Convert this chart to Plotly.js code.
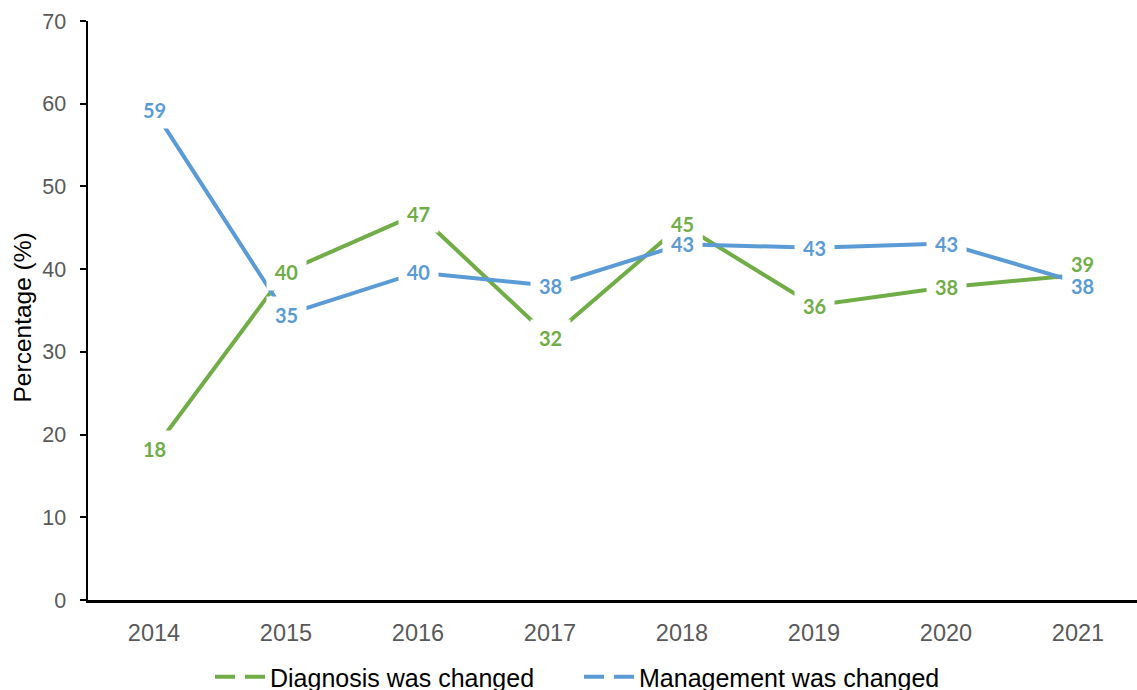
<!DOCTYPE html>
<html>
<head>
<meta charset="utf-8">
<script src="https://cdn.plot.ly/plotly-3.0.1.min.js"></script>
<style>html,body{margin:0;padding:0;background:#fff;}#chart{width:1137px;height:690px;}</style>
</head>
<body>
<div id="chart"></div>
<script>
// ---- data ----
var years = ['2014', '2015', '2016', '2017', '2018', '2019', '2020', '2021'];
var diagnosisChanged = [18.2, 39.7, 46.7, 31.7, 45.4, 35.6, 37.8, 39.3];
var managementChanged = [59.2, 34.5, 39.6, 38.0, 43.0, 42.6, 43.1, 38.4];
var seriesNames = ['Diagnosis was changed', 'Management was changed'];
var yTicks = [0, 10, 20, 30, 40, 50, 60, 70];

var GREEN = '#70AD47', BLUE = '#5B9BD5';
var LABEL_FONT = 'Lato, "Noto Sans", sans-serif';
var AX_FONT = '"Liberation Sans", Arial, sans-serif';

var greenShift = years.map(function (y, i) { return i === years.length - 1 ? {x: 4, y: 11} : {x: 0, y: 0}; });
var blueShift = years.map(function (y, i) { return i === years.length - 1 ? {x: 4, y: -4} : {x: 0, y: 0}; });

var traces = [
  {x: years, y: diagnosisChanged, type: 'scatter', mode: 'lines', name: seriesNames[0],
   line: {color: GREEN, width: 4}, showlegend: false},
  {x: years, y: managementChanged, type: 'scatter', mode: 'lines', name: seriesNames[1],
   line: {color: BLUE, width: 4}, showlegend: false},
  {x: [null], y: [null], type: 'scatter', mode: 'lines', name: seriesNames[0],
   line: {color: GREEN, width: 4, dash: '20px,10px'}},
  {x: [null], y: [null], type: 'scatter', mode: 'lines', name: seriesNames[1],
   line: {color: BLUE, width: 4, dash: '20px,10px'}}
];

// white boxes (hide the line under each label), drawn first
function boxAnn(i, y, txt, sh) {
  return {
    x: i, y: y, xref: 'x', yref: 'y', text: txt, showarrow: false,
    xanchor: 'center', yanchor: 'middle', xshift: sh.x, yshift: sh.y,
    font: {family: LABEL_FONT, size: 20, color: 'rgba(255,255,255,0)'},
    bgcolor: '#ffffff', width: 27, height: 24, borderpad: 6
  };
}
// the visible label text, drawn on top
function textAnn(i, y, txt, color, sh) {
  return {
    x: i, y: y, xref: 'x', yref: 'y', text: txt, showarrow: false,
    xanchor: 'center', yanchor: 'middle', xshift: sh.x, yshift: sh.y,
    font: {family: LABEL_FONT, size: 20, color: color},
    width: 27, height: 18, borderpad: 0
  };
}

var bgAnns = [], txtAnns = [];
years.forEach(function (yr, i) {
  var g = '<b>' + Math.round(diagnosisChanged[i]) + '</b>';
  var b = '<b>' + Math.round(managementChanged[i]) + '</b>';
  bgAnns.push(boxAnn(i, diagnosisChanged[i], g, greenShift[i]));
  bgAnns.push(boxAnn(i, managementChanged[i], b, blueShift[i]));
  txtAnns.push(textAnn(i, diagnosisChanged[i], g, GREEN, greenShift[i]));
  txtAnns.push(textAnn(i, managementChanged[i], b, BLUE, blueShift[i]));
});

var layout = {
  width: 1137, height: 690,
  margin: {l: 88, r: 0, t: 21, b: 90, pad: 0},
  paper_bgcolor: '#ffffff', plot_bgcolor: '#ffffff',
  showlegend: true,
  xaxis: {
    type: 'category', categoryorder: 'array', categoryarray: years,
    range: [-0.5, 7.447], showline: true, linecolor: '#000000', linewidth: 2.5,
    ticks: '', showgrid: false, zeroline: false, fixedrange: true,
    tickfont: {family: AX_FONT, size: 23.5, color: '#595959'}, ticklabelstandoff: 10
  },
  yaxis: {
    range: [0, 70], tickmode: 'array', tickvals: yTicks, ticktext: yTicks.map(String),
    showline: true, linecolor: '#000000', linewidth: 2.5,
    ticks: 'outside', ticklen: 6, tickwidth: 2, tickcolor: '#000000',
    showgrid: false, zeroline: false, fixedrange: true,
    tickfont: {family: AX_FONT, size: 21.5, color: '#595959'}, ticklabelstandoff: 9
  },
  legend: {
    orientation: 'h', xref: 'container', yref: 'container',
    x: 210 / 1137, xanchor: 'left', y: 13 / 690, yanchor: 'middle',
    itemwidth: 50, entrywidth: 304, entrywidthmode: 'pixels',
    font: {family: AX_FONT, size: 25, color: '#000000'},
    bgcolor: 'rgba(0,0,0,0)', borderwidth: 0
  },
  annotations: bgAnns.concat(txtAnns).concat([{
    text: 'Percentage (%)', xref: 'paper', yref: 'paper', x: 0, y: 0.5,
    xanchor: 'center', yanchor: 'middle',
    xshift: -66, yshift: -7, textangle: -90, showarrow: false,
    font: {family: AX_FONT, size: 24.5, color: '#000000'}
  }])
};

Plotly.newPlot('chart', traces, layout, {displayModeBar: false, staticPlot: true});
</script>
</body>
</html>
